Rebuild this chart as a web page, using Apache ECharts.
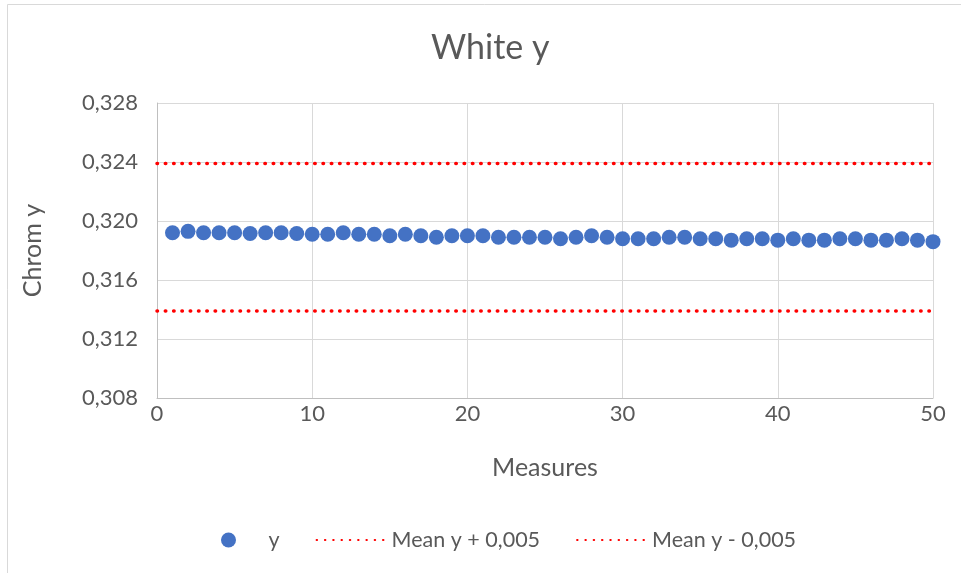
<!DOCTYPE html>
<html>
<head>
<meta charset="utf-8">
<script src="https://cdn.jsdelivr.net/npm/echarts@6/dist/echarts.min.js"></script>
<style>
  html, body { margin: 0; padding: 0; background: #fff; }
  #chart { width: 961px; height: 573px; }
</style>
</head>
<body>
<div id="chart"></div>
<script>
// Measurement index (1..50)
const measures = [
  1, 2, 3, 4, 5, 6, 7, 8, 9, 10,
  11, 12, 13, 14, 15, 16, 17, 18, 19, 20,
  21, 22, 23, 24, 25, 26, 27, 28, 29, 30,
  31, 32, 33, 34, 35, 36, 37, 38, 39, 40,
  41, 42, 43, 44, 45, 46, 47, 48, 49, 50
];

// Chromaticity y of the white patch for each measurement
const chromY = [
  0.3192, 0.3193, 0.3192, 0.3192, 0.3192, 0.31915, 0.3192, 0.3192, 0.31915, 0.3191,
  0.3191, 0.3192, 0.3191, 0.3191, 0.3190, 0.3191, 0.3190, 0.3189, 0.3190, 0.3190,
  0.3190, 0.3189, 0.3189, 0.3189, 0.3189, 0.3188, 0.3189, 0.3190, 0.3189, 0.3188,
  0.3188, 0.3188, 0.3189, 0.3189, 0.3188, 0.3188, 0.3187, 0.3188, 0.3188, 0.3187,
  0.3188, 0.3187, 0.3187, 0.3188, 0.3188, 0.3187, 0.3187, 0.3188, 0.3187, 0.3186
];

// Tolerance band around the mean
const bandX = [0, 50];
const meanPlus = [0.3239, 0.3239];
const meanMinus = [0.3139, 0.3139];

const legendNames = ['y', 'Mean y + 0,005', 'Mean y - 0,005'];

const fmt = v => v.toFixed(3).replace('.', ',');
const textColor = '#595959';
const font = 'Lato';
const dotted = { color: '#ff0000', width: 3.5, type: [0.5, 7.8], cap: 'round' };

const chart = echarts.init(document.getElementById('chart'), null, { renderer: 'canvas' });

chart.setOption({
  backgroundColor: '#ffffff',
  animation: false,
  title: {
    text: 'White y',
    left: 426,
    top: 26,
    textStyle: { fontFamily: font, fontSize: 34, fontWeight: 'normal', color: textColor }
  },
  graphic: [{
    type: 'rect',
    shape: { x: 7.5, y: 4.5, width: 1200, height: 1200 },
    style: { fill: 'none', stroke: '#d9d9d9', lineWidth: 1 },
    silent: true
  }],
  grid: { left: 157, right: 28, top: 103, bottom: 175, containLabel: false },
  legend: {
    bottom: 17,
    left: 216,
    itemWidth: 70,
    itemHeight: 15,
    itemGap: 36,
    textStyle: { fontFamily: font, fontSize: 21.5, color: textColor },
    data: [
      { name: legendNames[0], icon: 'circle' },
      { name: legendNames[1], itemStyle: { color: 'rgba(0,0,0,0)', borderWidth: 0 } },
      { name: legendNames[2], itemStyle: { color: 'rgba(0,0,0,0)', borderWidth: 0 } }
    ]
  },
  xAxis: {
    type: 'value',
    min: 0,
    max: 50,
    interval: 10,
    name: 'Measures',
    nameLocation: 'middle',
    nameGap: 57,
    nameTextStyle: { fontFamily: font, fontSize: 25, color: textColor },
    axisLine: { show: true, lineStyle: { color: '#bfbfbf', width: 1 } },
    axisTick: { show: false },
    axisLabel: { fontFamily: font, fontSize: 22, color: textColor, margin: 5 },
    splitLine: { show: true, lineStyle: { color: '#d9d9d9', width: 1 } }
  },
  yAxis: {
    type: 'value',
    min: 0.308,
    max: 0.328,
    interval: 0.004,
    name: 'Chrom y',
    nameLocation: 'middle',
    nameGap: 112,
    nameTextStyle: { fontFamily: font, fontSize: 25, color: textColor },
    axisLine: { show: true, lineStyle: { color: '#bfbfbf', width: 1 } },
    axisTick: { show: false },
    axisLabel: { fontFamily: font, fontSize: 22, color: textColor, margin: 19, formatter: fmt },
    splitLine: { show: true, lineStyle: { color: '#d9d9d9', width: 1 } }
  },
  series: [
    {
      name: legendNames[0],
      type: 'scatter',
      symbol: 'circle',
      symbolSize: 15,
      itemStyle: { color: '#4472c4', opacity: 1 },
      data: measures.map((m, i) => [m, chromY[i]]),
      z: 3
    },
    {
      name: legendNames[1],
      type: 'line',
      symbol: 'none',
      lineStyle: dotted,
      itemStyle: { color: '#ff0000' },
      data: bandX.map((x, i) => [x, meanPlus[i]]),
      z: 2
    },
    {
      name: legendNames[2],
      type: 'line',
      symbol: 'none',
      lineStyle: dotted,
      itemStyle: { color: '#ff0000' },
      data: bandX.map((x, i) => [x, meanMinus[i]]),
      z: 2
    }
  ]
});
</script>
</body>
</html>
